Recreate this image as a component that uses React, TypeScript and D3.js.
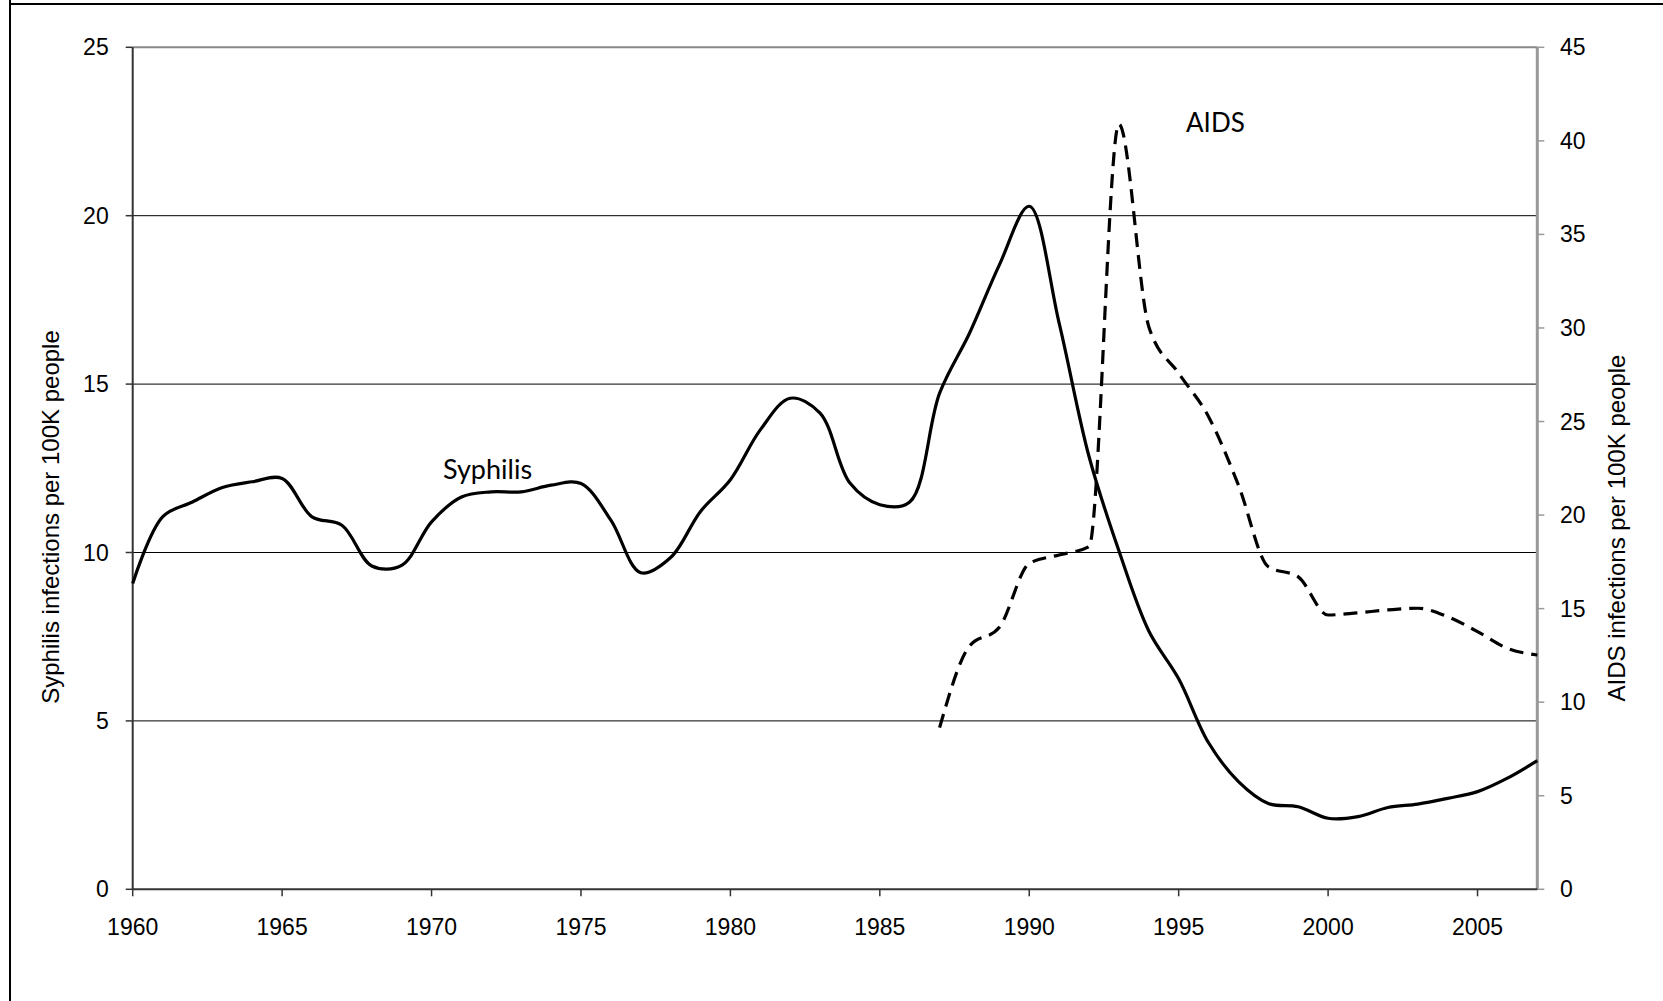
import React from "react";
import * as d3 from "d3";

const years = d3.range(1960, 2008);
const syphilis = [
  9.08, 11.06, 11.5, 11.93, 12.1, 12.2, 11.06, 10.81, 9.6, 9.62,
  10.91, 11.65, 11.8, 11.8, 12.0, 12.05, 10.96, 9.4, 9.85, 11.22,
  12.16, 13.64, 14.58, 14.14, 12.06, 11.42, 11.5, 14.73, 16.51, 18.54,
  20.28, 16.81, 12.85, 10.05, 7.67, 6.25, 4.35, 3.2, 2.55, 2.45,
  2.11, 2.16, 2.43, 2.53, 2.7, 2.9, 3.3, 3.82,
];
const aidsYears = d3.range(1987, 2008);
const aids = [
  8.64, 13.0, 14.0, 17.42, 17.87, 18.31, 40.9, 30.07, 27.58, 25.26,
  21.6, 17.24, 16.7, 14.66, 14.78, 14.93, 15.02, 14.57, 13.77, 12.88, 12.52,
];
const xTicks = [1960, 1965, 1970, 1975, 1980, 1985, 1990, 1995, 2000, 2005];
const leftTicks = [0, 5, 10, 15, 20, 25];
const rightTicks = [0, 5, 10, 15, 20, 25, 30, 35, 40, 45];
const leftTitle = "Syphilis infections per 100K people";
const rightTitle = "AIDS infections per 100K people";

const W = 1663;
const H = 1001;
const L = 132.7, R = 1537.3, T = 47.3, B = 889.3;

export default function App() {
  const x = d3.scaleLinear().domain([1960, 2007]).range([L, R]);
  const yL = d3.scaleLinear().domain([0, 25]).range([B, T]);
  const yR = d3.scaleLinear().domain([0, 45]).range([B, T]);

  const sLine = d3
    .line<number>()
    .x((_, i) => x(years[i]))
    .y((d) => yL(d))
    .curve(d3.curveCatmullRom.alpha(0.5));
  const aLine = d3
    .line<number>()
    .x((_, i) => x(aidsYears[i]))
    .y((d) => yR(d))
    .curve(d3.curveMonotoneX);

  const axisFont = "'Liberation Sans', Arial, sans-serif";
  const noteFont = "Lato, 'Open Sans', sans-serif";

  return (
    <svg
      width={W}
      height={H}
      style={{ position: "absolute", left: 0, top: 0, background: "#fff" }}
    >
      <rect x={0} y={0} width={W} height={H} fill="#fff" />
      {/* outer frame */}
      <line x1={10} y1={0} x2={10} y2={H} stroke="#000" strokeWidth={2} />
      <line x1={10} y1={4} x2={W} y2={4} stroke="#000" strokeWidth={2} />

      {/* gridlines */}
      {leftTicks.filter((t) => t > 0 && t < 25).map((t) => (
        <line key={"g" + t} x1={L} x2={R} y1={yL(t)} y2={yL(t)} stroke="#000" strokeWidth={1} />
      ))}
      <line x1={L} x2={R} y1={yL(25)} y2={yL(25)} stroke="#888" strokeWidth={2} />

      {/* left axis */}
      <line x1={L} x2={L} y1={T} y2={B} stroke="#333" strokeWidth={2} />
      {leftTicks.map((t) => (
        <g key={"l" + t}>
          <line x1={L - 7} x2={L} y1={yL(t)} y2={yL(t)} stroke="#333" strokeWidth={1.5} />
          <text
            x={108.7}
            y={yL(t)}
            dy="0.35em"
            textAnchor="end"
            fontFamily={axisFont}
            fontSize={23}
            fill="#000"
          >
            {t}
          </text>
        </g>
      ))}

      {/* right axis */}
      <line x1={R} x2={R} y1={T} y2={B} stroke="#999" strokeWidth={3} />
      {rightTicks.map((t) => (
        <g key={"r" + t}>
          <line x1={R} x2={R + 7} y1={yR(t)} y2={yR(t)} stroke="#999" strokeWidth={1.5} />
          <text
            x={1560}
            y={yR(t)}
            dy="0.35em"
            textAnchor="start"
            fontFamily={axisFont}
            fontSize={23}
            fill="#000"
          >
            {t}
          </text>
        </g>
      ))}

      {/* bottom axis */}
      <line x1={L} x2={R} y1={B} y2={B} stroke="#333" strokeWidth={2} />
      {xTicks.map((t) => (
        <g key={"x" + t}>
          <line x1={x(t)} x2={x(t)} y1={B} y2={B + 7} stroke="#333" strokeWidth={1.5} />
          <text
            x={x(t)}
            y={935}
            textAnchor="middle"
            fontFamily={axisFont}
            fontSize={23}
            fill="#000"
          >
            {t}
          </text>
        </g>
      ))}

      {/* axis titles */}
      <text
        transform={`translate(51,517) rotate(-90)`}
        textAnchor="middle"
        dy="0.35em"
        fontFamily={axisFont}
        fontSize={24}
        fill="#000"
      >
        {leftTitle}
      </text>
      <text
        transform={`translate(1617,528) rotate(-90)`}
        textAnchor="middle"
        dy="0.35em"
        fontFamily={axisFont}
        fontSize={24}
        fill="#000"
      >
        {rightTitle}
      </text>

      {/* series */}
      <path d={sLine(syphilis) || ""} fill="none" stroke="#000" strokeWidth={3.2} strokeLinejoin="round" />
      <path
        d={aLine(aids) || ""}
        fill="none"
        stroke="#000"
        strokeWidth={3.2}
        strokeDasharray="14 8"
      />

      {/* annotations */}
      <text x={443} y={479} fontFamily={noteFont} fontSize={27} fill="#000">
        Syphilis
      </text>
      <text x={1186} y={132} fontFamily={noteFont} fontSize={26} fill="#000">
        AIDS
      </text>
    </svg>
  );
}
